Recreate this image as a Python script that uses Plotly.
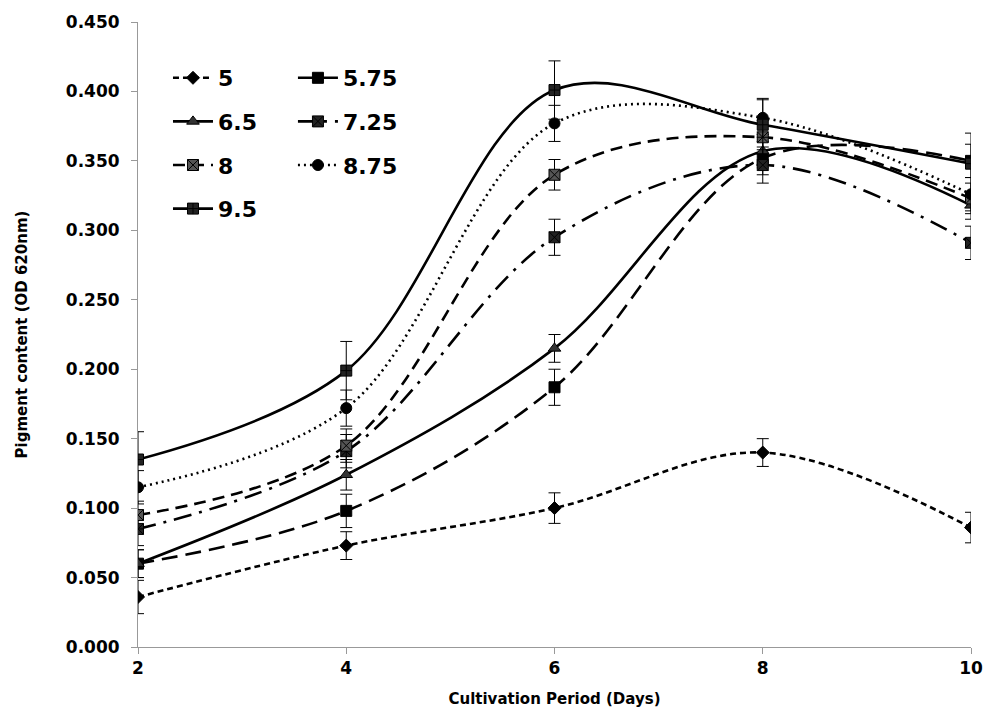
import plotly.graph_objects as go

days = [2, 4, 6, 8, 10]
series_names = ["5", "5.75", "6.5", "7.25", "8", "8.75", "9.5"]
v_5 = [0.036, 0.073, 0.100, 0.140, 0.086]
v_575 = [0.060, 0.098, 0.187, 0.352, 0.350]
v_65 = [0.060, 0.124, 0.215, 0.357, 0.318]
v_725 = [0.085, 0.141, 0.295, 0.347, 0.291]
v_8 = [0.095, 0.145, 0.340, 0.367, 0.323]
v_875 = [0.115, 0.172, 0.377, 0.381, 0.326]
v_95 = [0.135, 0.199, 0.401, 0.376, 0.348]
e_5 = [0.012, 0.010, 0.011, 0.010, 0.011]
e_575 = [0.010, 0.012, 0.013, 0.012, 0.012]
e_65 = [0.010, 0.011, 0.010, 0.012, 0.010]
e_725 = [0.012, 0.012, 0.013, 0.013, 0.012]
e_8 = [0.010, 0.012, 0.011, 0.012, 0.011]
e_875 = [0.012, 0.013, 0.013, 0.014, 0.012]
e_95 = [0.020, 0.021, 0.021, 0.018, 0.022]

values = [v_5, v_575, v_65, v_725, v_8, v_875, v_95]
errors = [e_5, e_575, e_65, e_725, e_8, e_875, e_95]
dashes = ["6px,4px", "16px,8px", "solid", "18px,8px,3px,8px", "12px,7px", "2px,4px", "solid"]
symbols = ["diamond", "square", "triangle-up", "square-x", "square-x", "circle", "square-cross"]
mcolors = ["black", "black", "#333333", "#222222", "#555555", "black", "#222222"]
legend_of = ["legend", "legend2", "legend", "legend2", "legend", "legend2", "legend"]

FONT = "DejaVu Sans"

fig = go.Figure()
for i, name in enumerate(series_names):
    fig.add_trace(go.Scatter(
        x=days, y=values[i], name=name, mode="lines+markers",
        line=dict(color="black", width=2.6, dash=dashes[i], shape="spline", smoothing=1.0),
        marker=dict(symbol=symbols[i], size=11 if symbols[i] != "diamond" else 10,
                    color=mcolors[i], line=dict(color="black", width=1)),
        error_y=dict(type="data", array=errors[i], visible=True, color="black",
                     thickness=1, width=6),
        legend=legend_of[i], legendgroup=name,
    ))

legend_common = dict(
    font=dict(family=FONT, size=22, color="black", weight="bold"),
    bgcolor="rgba(0,0,0,0)", tracegroupgap=12, traceorder="grouped",
    xanchor="left", yanchor="top", itemwidth=40,
)
fig.update_layout(
    width=978, height=700,
    margin=dict(l=130, r=15, t=14, b=61, autoexpand=False),
    paper_bgcolor="white", plot_bgcolor="white",
    showlegend=True,
    legend=dict(x=0.036, y=0.944, **legend_common),
    legend2=dict(x=0.186, y=0.944, **legend_common),
    xaxis=dict(
        range=[2, 10], tickvals=[2, 4, 6, 8, 10], showgrid=False, zeroline=False,
        showline=True, linecolor="#999999", linewidth=1,
        ticks="outside", ticklen=6, tickcolor="#999999",
        tickfont=dict(family=FONT, size=17, color="black", weight="bold"),
        title=dict(text="Cultivation Period (Days)", standoff=18,
                   font=dict(family=FONT, size=15, color="black", weight="bold")),
    ),
    yaxis=dict(
        range=[0, 0.45], tickvals=[0, 0.05, 0.1, 0.15, 0.2, 0.25, 0.3, 0.35, 0.4, 0.45],
        tickformat=".3f", showgrid=False, zeroline=False,
        showline=True, linecolor="#999999", linewidth=1,
        ticks="outside", ticklen=6, tickcolor="#999999", ticklabelstandoff=8,
        tickfont=dict(family=FONT, size=17, color="black", weight="bold"),
        title=dict(text="Pigment content (OD 620nm)", standoff=34,
                   font=dict(family=FONT, size=15, color="black", weight="bold")),
    ),
)

fig.write_html("out.html")
